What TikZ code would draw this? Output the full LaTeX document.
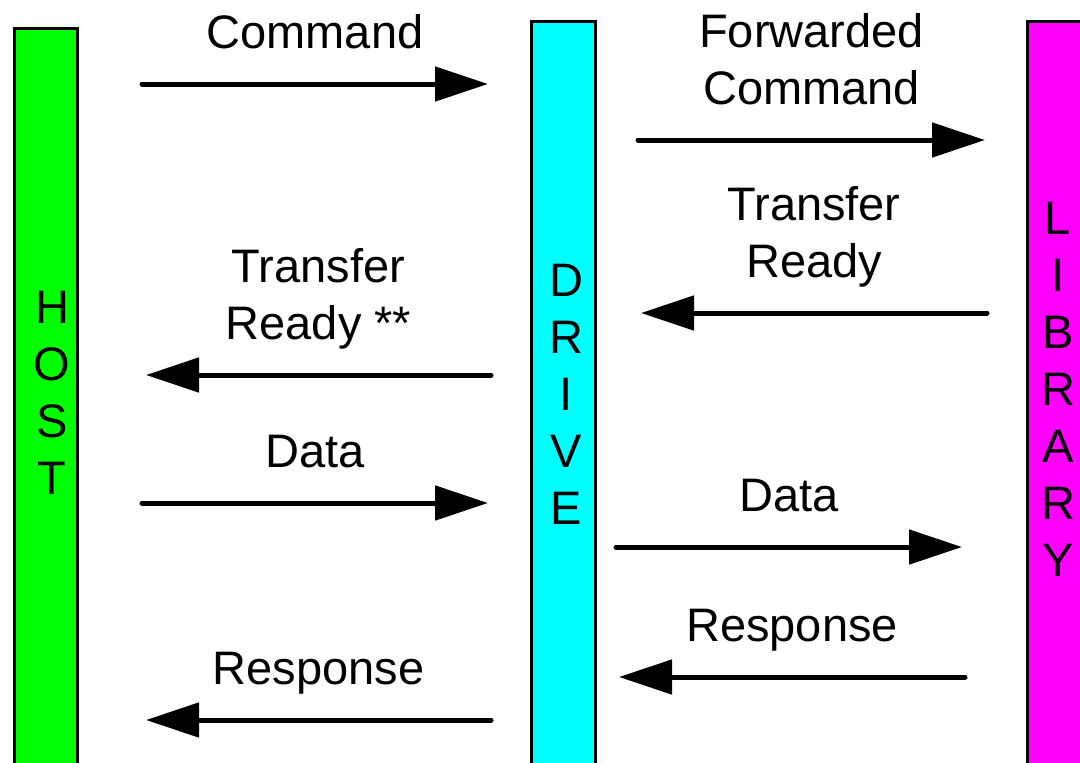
\documentclass[tikz,border=0pt]{standalone}
\usepackage{fontspec}
\setmainfont{Liberation Sans}
\usepackage{xcolor}
\usepackage{tikz}
\usetikzlibrary{positioning}
\usetikzlibrary{arrows.meta}
\usetikzlibrary{calc}
\definecolor{hostgreen}{RGB}{0,255,0}
\definecolor{drivecyan}{RGB}{0,255,255}
\definecolor{libmagenta}{RGB}{255,0,255}

\begin{document}
\begin{tikzpicture}[x=0.5pt,y=-0.5pt,
  bar/.style={draw,line width=1.5pt},
  msg/.style={line width=2.5pt,line cap=round,-{Triangle[length=26.5pt,width=17pt]}},
  lbl/.style={midway,above=16.5pt,inner sep=0pt,text depth=0pt,align=center},
  stack/.style={anchor=base,inner sep=0pt,align=center}]
\useasboundingbox (0,0) rectangle (1080,762);
\clip (0,0) rectangle (1080,762);
\fontsize{23.5}{28.5}\selectfont

\draw[bar,fill=hostgreen] (14.5,800) rectangle (77.5,28.5);
\draw[bar,fill=drivecyan] (531.5,800) rectangle (595.5,21.5);
\draw[bar,fill=libmagenta] (1027.5,800) rectangle (1120,21.5);

\node[stack] (host) at (52,494) {H\\O\\S\\T};
\node[stack] (drive) at (566,524) {D\\R\\I\\V\\E};
\node[stack] (library) at (1058,576) {L\\I\\B\\R\\A\\R\\Y};

\coordinate (cmd1) at (142,84);
\coordinate (cmd2) at (488,84);
\coordinate (fwd1) at (638,140);
\coordinate (fwd2) at (985,140);
\coordinate (rdyl1) at (987,313);
\coordinate (rdyl2) at (641,313);
\coordinate (rdyh1) at (491,375);
\coordinate (rdyh2) at (146,375);
\coordinate (dath1) at (142,503);
\coordinate (dath2) at (488,503);
\coordinate (datl1) at (616,547);
\coordinate (datl2) at (962,547);
\coordinate (resl1) at (965,677);
\coordinate (resl2) at (619,677);
\coordinate (resh1) at (491,720);
\coordinate (resh2) at (146,720);

\draw[msg] (cmd1) -- node[lbl] {Command} (cmd2);
\draw[msg] (fwd1) -- node[lbl] {Forwarded\\Command} (fwd2);
\draw[msg] (rdyl1) -- node[lbl] {Transfer\\Ready} (rdyl2);
\draw[msg] (rdyh1) -- node[lbl] {Transfer\\Ready **} (rdyh2);
\draw[msg] (dath1) -- node[lbl] {Data} (dath2);
\draw[msg] (datl1) -- node[lbl] {Data} (datl2);
\draw[msg] (resl1) -- node[lbl] {Response} (resl2);
\draw[msg] (resh1) -- node[lbl] {Response} (resh2);
\end{tikzpicture}
\end{document}
